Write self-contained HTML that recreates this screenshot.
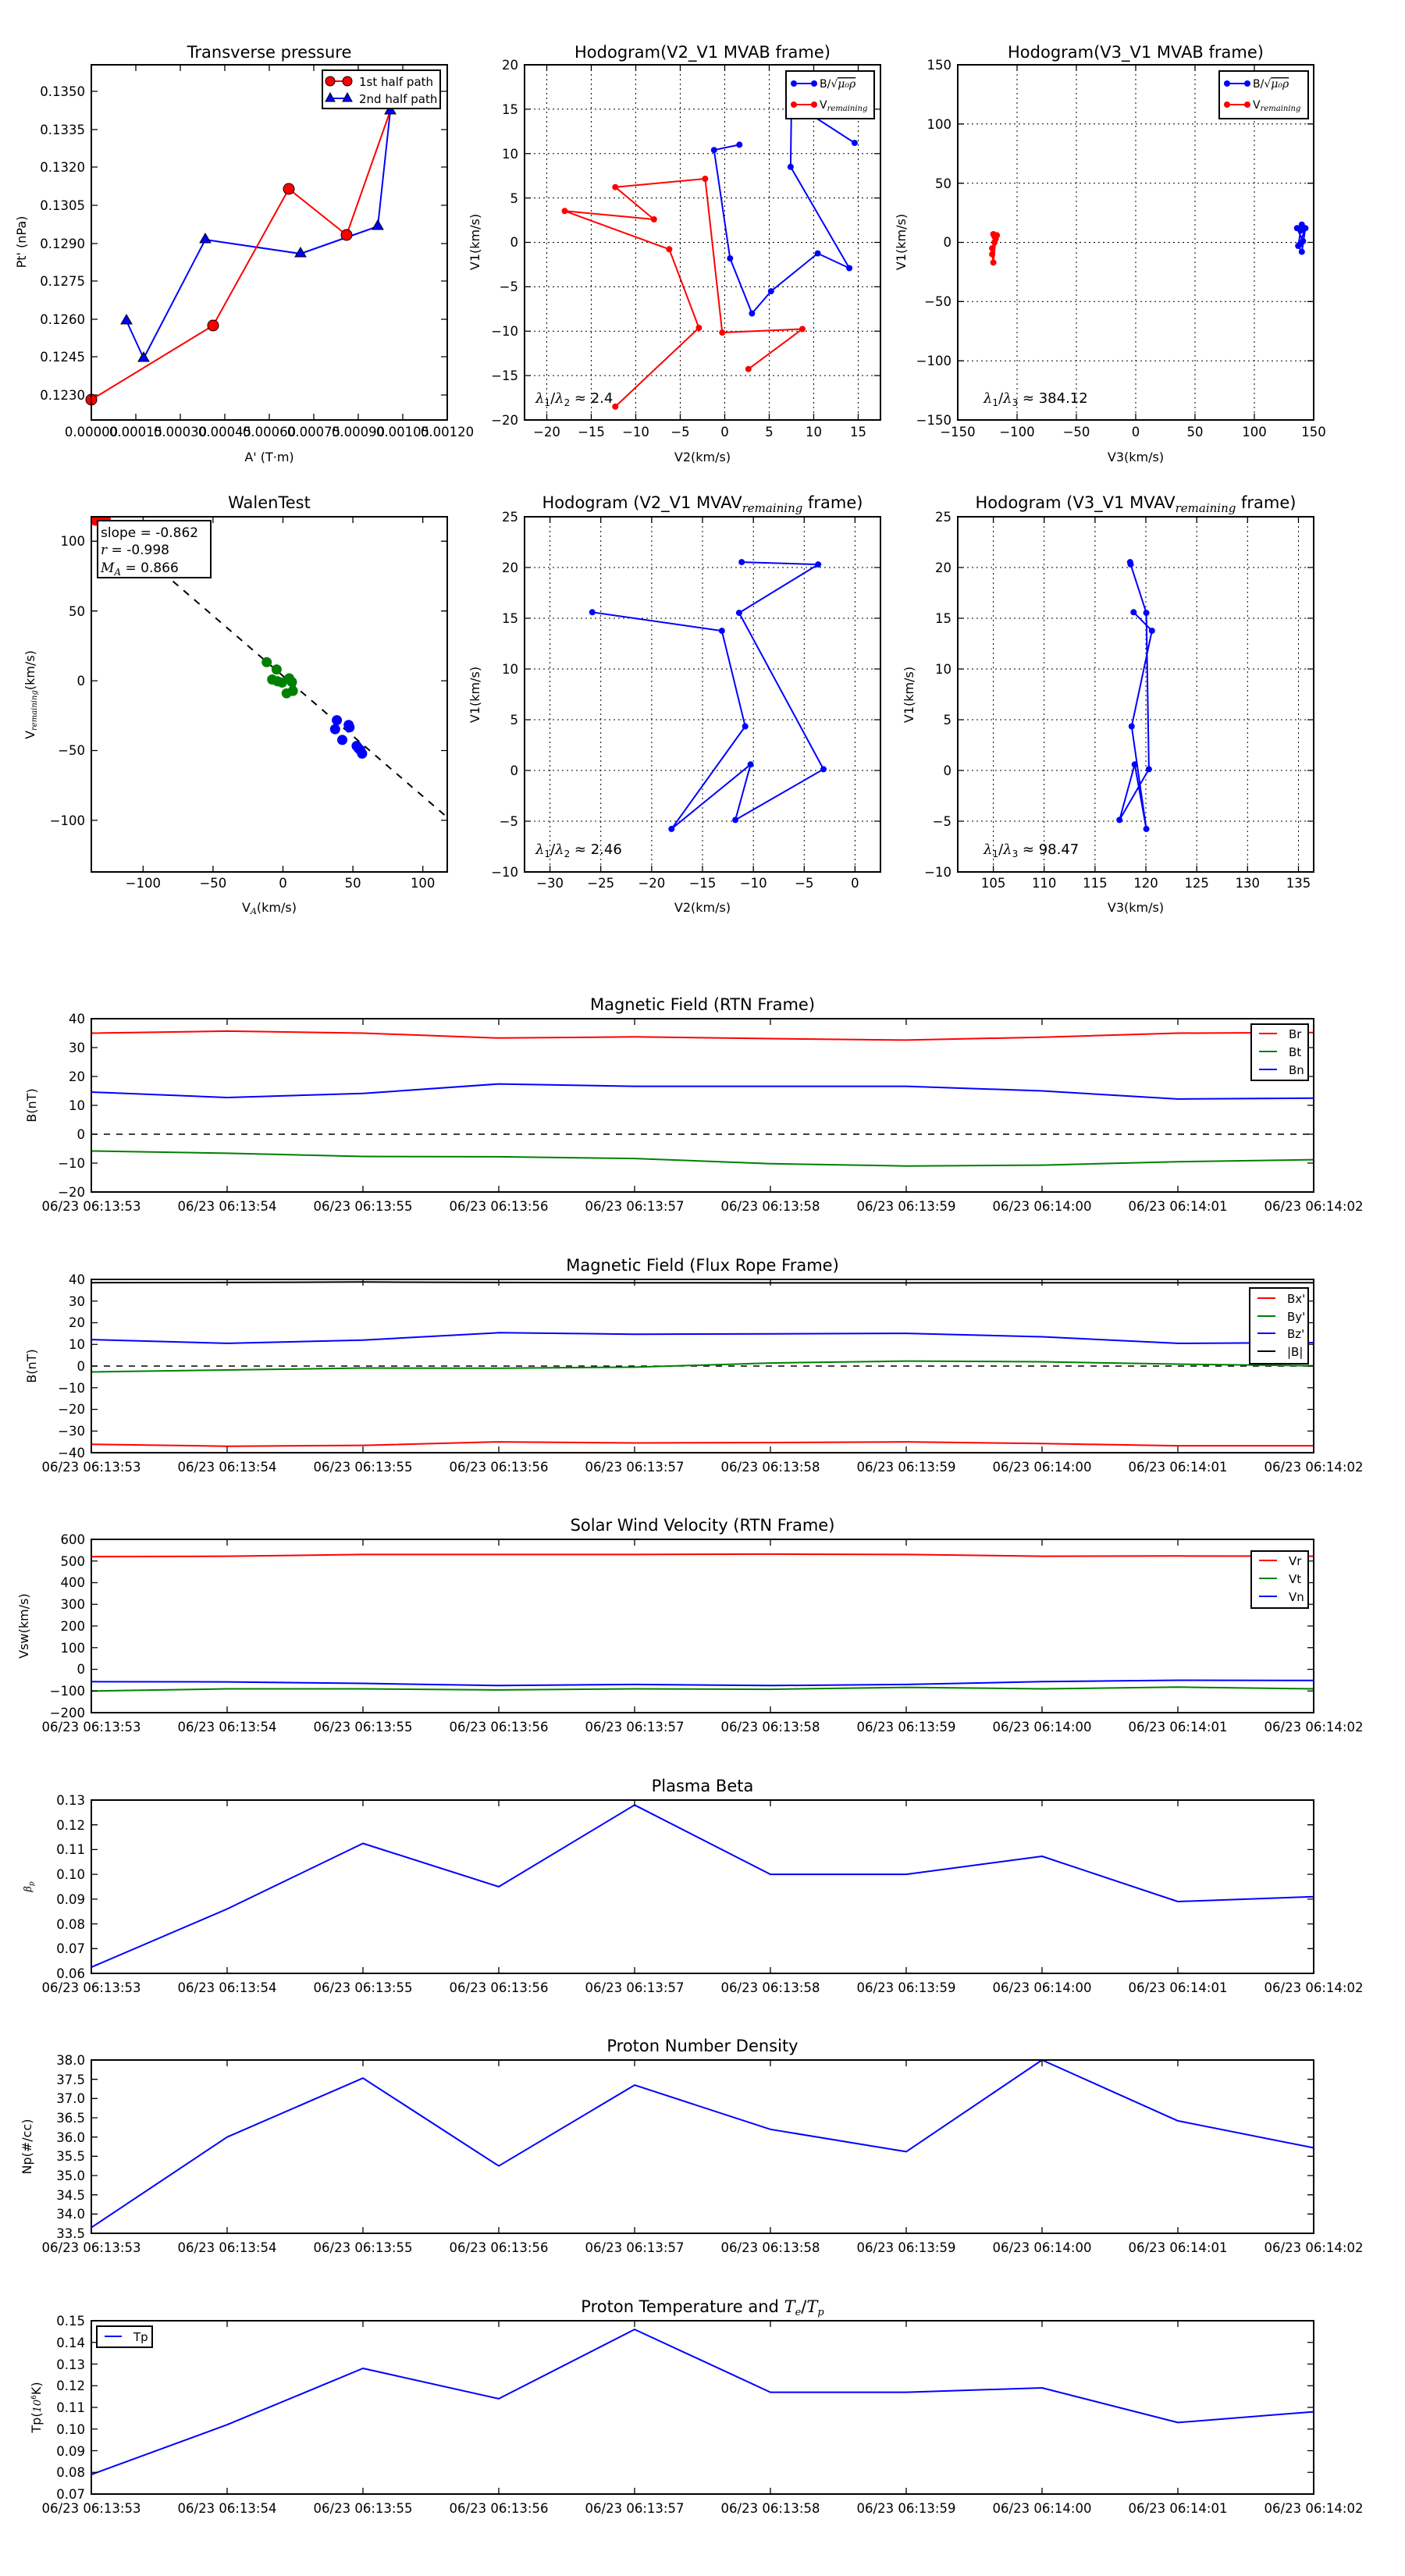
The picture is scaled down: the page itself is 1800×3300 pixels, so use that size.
<!DOCTYPE html>
<html><head><meta charset="utf-8"><style>
html,body{margin:0;padding:0;background:#fff}
svg{display:block}
text{font-family:"DejaVu Sans","Liberation Sans",sans-serif;fill:#000}
.t{font-size:16.5px}
.ti{font-size:21px;text-anchor:middle}
.lb{font-size:16px;text-anchor:middle}
.r{text-anchor:end}
.m{text-anchor:middle}
.ax{fill:none;stroke:#000;stroke-width:2}
.tk{fill:none;stroke:#000;stroke-width:1.3}
.gr{fill:none;stroke:#000;stroke-width:1;stroke-dasharray:2,4}
.ln{fill:none;stroke-width:2;stroke-linejoin:round}
.it{font-family:"DejaVu Serif","Liberation Serif",serif;font-style:italic}
</style></head><body>
<svg width="1800" height="3300" viewBox="0 0 1800 3300" xmlns="http://www.w3.org/2000/svg">
<rect width="1800" height="3300" fill="#fff"/>

<!-- ========== Plot 1: Transverse pressure ========== -->
<text class="ti" x="345" y="74">Transverse pressure</text>
<path class="tk" d="M174 538v-8M231 538v-8M288 538v-8M345 538v-8M402 538v-8M459 538v-8M516 538v-8M174 83v8M231 83v8M288 83v8M345 83v8M402 83v8M459 83v8M516 83v8
M117 117h8M117 166h8M117 214h8M117 263h8M117 312h8M117 360h8M117 409h8M117 457h8M117 506h8M573 117h-8M573 166h-8M573 214h-8M573 263h-8M573 312h-8M573 360h-8M573 409h-8M573 457h-8M573 506h-8"/>
<polyline class="ln" stroke="#00f" points="162,411 184,459 263,307 385,325 484,290 500,142"/>
<polyline class="ln" stroke="#f00" points="117,512 273,417 370,242 444,301 500,142"/>
<g fill="#00f" stroke="#000" stroke-width="1">
<path d="M162 403l7 12h-14z"/><path d="M184 451l7 12h-14z"/><path d="M263 299l7 12h-14z"/><path d="M385 317l7 12h-14z"/><path d="M484 282l7 12h-14z"/><path d="M500 134l7 12h-14z"/>
</g>
<g fill="#f00" stroke="#000" stroke-width="1">
<circle cx="117" cy="512" r="7"/><circle cx="273" cy="417" r="7"/><circle cx="370" cy="242" r="7"/><circle cx="444" cy="301" r="7"/>
</g>
<rect class="ax" x="117" y="83" width="456" height="455"/>
<rect x="413" y="90" width="151" height="49" fill="#fff" stroke="#000" stroke-width="2"/>
<path d="M423 104h22" stroke="#f00" stroke-width="2"/><circle cx="423" cy="104" r="6" fill="#f00" stroke="#000"/><circle cx="445" cy="104" r="6" fill="#f00" stroke="#000"/>
<path d="M423 126h22" stroke="#00f" stroke-width="2"/><path d="M423 119l6 11h-12zM445 119l6 11h-12z" fill="#00f" stroke="#000"/>
<text x="460" y="110" style="font-size:15px">1st half path</text>
<text x="460" y="132" style="font-size:15px">2nd half path</text>
<g class="t r"><text x="109" y="123">0.1350</text><text x="109" y="172">0.1335</text><text x="109" y="220">0.1320</text><text x="109" y="269">0.1305</text><text x="109" y="318">0.1290</text><text x="109" y="366">0.1275</text><text x="109" y="415">0.1260</text><text x="109" y="463">0.1245</text><text x="109" y="512">0.1230</text></g>
<g class="t m"><text x="117" y="559">0.00000</text><text x="174" y="559">0.00015</text><text x="231" y="559">0.00030</text><text x="288" y="559">0.00045</text><text x="345" y="559">0.00060</text><text x="402" y="559">0.00075</text><text x="459" y="559">0.00090</text><text x="516" y="559">0.00105</text><text x="573" y="559">0.00120</text></g>
<text class="lb" x="345" y="591">A' (T·m)</text>
<text class="lb" transform="translate(33,310) rotate(-90)">Pt' (nPa)</text>

<!-- ========== Plot 2: Hodogram V2_V1 MVAB ========== -->
<text class="ti" x="900" y="74">Hodogram(V2_V1 MVAB frame)</text>
<path class="gr" d="M700.5 83V538M757.5 83V538M814.5 83V538M871.5 83V538M928.5 83V538M985.5 83V538M1042.5 83V538M1099.5 83V538M672 139.9H1128M672 196.75H1128M672 253.6H1128M672 310.5H1128M672 367.4H1128M672 424.25H1128M672 481.1H1128"/>
<polyline class="ln" stroke="#00f" points="947.3,185.4 914.8,192.2 935.3,331 963.4,401.5 987.8,373.1 1047.6,324.6 1088.1,343.5 1012.9,213.8 1014,130.8 1094.9,183.1"/>
<g fill="#00f"><circle cx="947.3" cy="185.4" r="4"/><circle cx="914.8" cy="192.2" r="4"/><circle cx="935.3" cy="331" r="4"/><circle cx="963.4" cy="401.5" r="4"/><circle cx="987.8" cy="373.1" r="4"/><circle cx="1047.6" cy="324.6" r="4"/><circle cx="1088.1" cy="343.5" r="4"/><circle cx="1012.9" cy="213.8" r="4"/><circle cx="1014" cy="130.8" r="4"/><circle cx="1094.9" cy="183.1" r="4"/></g>
<polyline class="ln" stroke="#f00" points="788.3,520.9 895.4,420 857.4,319.3 723.5,270.3 837.8,281 788.3,239.7 903.4,229 925.3,426 1028,421.5 958.8,472.8"/>
<g fill="#f00"><circle cx="788.3" cy="520.9" r="4"/><circle cx="895.4" cy="420" r="4"/><circle cx="857.4" cy="319.3" r="4"/><circle cx="723.5" cy="270.3" r="4"/><circle cx="837.8" cy="281" r="4"/><circle cx="788.3" cy="239.7" r="4"/><circle cx="903.4" cy="229" r="4"/><circle cx="925.3" cy="426" r="4"/><circle cx="1028" cy="421.5" r="4"/><circle cx="958.8" cy="472.8" r="4"/></g>
<path class="tk" d="M700.5 538v-8M757.5 538v-8M814.5 538v-8M871.5 538v-8M928.5 538v-8M985.5 538v-8M1042.5 538v-8M1099.5 538v-8M700.5 83v8M757.5 83v8M814.5 83v8M871.5 83v8M928.5 83v8M985.5 83v8M1042.5 83v8M1099.5 83v8M672 139.9h8M672 196.75h8M672 253.6h8M672 310.5h8M672 367.4h8M672 424.25h8M672 481.1h8M1128 139.9h-8M1128 196.75h-8M1128 253.6h-8M1128 310.5h-8M1128 367.4h-8M1128 424.25h-8M1128 481.1h-8"/>
<rect class="ax" x="672" y="83" width="456" height="455"/>
<rect x="1007" y="91" width="113" height="61" fill="#fff" stroke="#000" stroke-width="2"/>
<path d="M1017 107h26" stroke="#00f" stroke-width="2"/><circle cx="1017" cy="107" r="4" fill="#00f"/><circle cx="1043" cy="107" r="4" fill="#00f"/>
<path d="M1017 134h26" stroke="#f00" stroke-width="2"/><circle cx="1017" cy="134" r="4" fill="#f00"/><circle cx="1043" cy="134" r="4" fill="#f00"/>
<text x="1050" y="112" style="font-size:14px">B/√<tspan class="it" style="text-decoration:overline">μ₀ρ</tspan></text>
<text x="1050" y="139" style="font-size:14px">V<tspan class="it" style="font-size:10px" dy="3">remaining</tspan></text>
<text x="686" y="516" style="font-size:18px"><tspan class="it">λ</tspan><tspan style="font-size:12px" dy="4">1</tspan><tspan dy="-4">/</tspan><tspan class="it">λ</tspan><tspan style="font-size:12px" dy="4">2</tspan><tspan dy="-4"> ≈ 2.4</tspan></text>
<g class="t r"><text x="664" y="89">20</text><text x="664" y="146">15</text><text x="664" y="203">10</text><text x="664" y="260">5</text><text x="664" y="316">0</text><text x="664" y="373">−5</text><text x="664" y="430">−10</text><text x="664" y="487">−15</text><text x="664" y="544">−20</text></g>
<g class="t m"><text x="700.5" y="559">−20</text><text x="757.5" y="559">−15</text><text x="814.5" y="559">−10</text><text x="871.5" y="559">−5</text><text x="928.5" y="559">0</text><text x="985.5" y="559">5</text><text x="1042.5" y="559">10</text><text x="1099.5" y="559">15</text></g>
<text class="lb" x="900" y="591">V2(km/s)</text>
<text class="lb" transform="translate(614,310) rotate(-90)">V1(km/s)</text>

<!-- ========== Plot 3: Hodogram V3_V1 MVAB ========== -->
<text class="ti" x="1455" y="74">Hodogram(V3_V1 MVAB frame)</text>
<path class="gr" d="M1303 83V538M1379 83V538M1455 83V538M1531 83V538M1607 83V538M1227 158.8H1683M1227 234.7H1683M1227 310.5H1683M1227 386.3H1683M1227 462.2H1683"/>
<polyline class="ln" stroke="#f00" points="1272.6,300 1274.1,303 1271.1,325.7 1272.6,336.3 1275.6,306 1277.2,301.4 1271.1,318.1 1274.1,310.5"/>
<g fill="#f00"><circle cx="1272.6" cy="300" r="4"/><circle cx="1274.1" cy="303" r="4"/><circle cx="1271.1" cy="325.7" r="4"/><circle cx="1272.6" cy="336.3" r="4"/><circle cx="1275.6" cy="306" r="4"/><circle cx="1277.2" cy="301.4" r="4"/><circle cx="1271.1" cy="318.1" r="4"/><circle cx="1274.1" cy="310.5" r="4"/></g>
<polyline class="ln" stroke="#00f" points="1667.8,287.7 1666.3,295.3 1663.2,315 1667.8,322.6 1672.4,292.3 1664.8,313.5 1669.3,309 1661.7,292.3"/>
<g fill="#00f"><circle cx="1667.8" cy="287.7" r="4"/><circle cx="1666.3" cy="295.3" r="4"/><circle cx="1663.2" cy="315" r="4"/><circle cx="1667.8" cy="322.6" r="4"/><circle cx="1672.4" cy="292.3" r="4"/><circle cx="1664.8" cy="313.5" r="4"/><circle cx="1669.3" cy="309" r="4"/><circle cx="1661.7" cy="292.3" r="4"/></g>
<path class="tk" d="M1303 538v-8M1379 538v-8M1455 538v-8M1531 538v-8M1607 538v-8M1303 83v8M1379 83v8M1455 83v8M1531 83v8M1607 83v8M1227 158.8h8M1227 234.7h8M1227 310.5h8M1227 386.3h8M1227 462.2h8M1683 158.8h-8M1683 234.7h-8M1683 310.5h-8M1683 386.3h-8M1683 462.2h-8"/>
<rect class="ax" x="1227" y="83" width="456" height="455"/>
<rect x="1562" y="91" width="114" height="61" fill="#fff" stroke="#000" stroke-width="2"/>
<path d="M1572 107h26" stroke="#00f" stroke-width="2"/><circle cx="1572" cy="107" r="4" fill="#00f"/><circle cx="1598" cy="107" r="4" fill="#00f"/>
<path d="M1572 134h26" stroke="#f00" stroke-width="2"/><circle cx="1572" cy="134" r="4" fill="#f00"/><circle cx="1598" cy="134" r="4" fill="#f00"/>
<text x="1605" y="112" style="font-size:14px">B/√<tspan class="it" style="text-decoration:overline">μ₀ρ</tspan></text>
<text x="1605" y="139" style="font-size:14px">V<tspan class="it" style="font-size:10px" dy="3">remaining</tspan></text>
<text x="1260" y="516" style="font-size:18px"><tspan class="it">λ</tspan><tspan style="font-size:12px" dy="4">1</tspan><tspan dy="-4">/</tspan><tspan class="it">λ</tspan><tspan style="font-size:12px" dy="4">3</tspan><tspan dy="-4"> ≈ 384.12</tspan></text>
<g class="t r"><text x="1219" y="89">150</text><text x="1219" y="165">100</text><text x="1219" y="241">50</text><text x="1219" y="316">0</text><text x="1219" y="392">−50</text><text x="1219" y="468">−100</text><text x="1219" y="544">−150</text></g>
<g class="t m"><text x="1227" y="559">−150</text><text x="1303" y="559">−100</text><text x="1379" y="559">−50</text><text x="1455" y="559">0</text><text x="1531" y="559">50</text><text x="1607" y="559">100</text><text x="1683" y="559">150</text></g>
<text class="lb" x="1455" y="591">V3(km/s)</text>
<text class="lb" transform="translate(1160,310) rotate(-90)">V1(km/s)</text>

<!-- ========== Plot 4: WalenTest ========== -->
<text class="ti" x="345" y="651">WalenTest</text>
<svg x="117" y="662" width="456" height="455" overflow="hidden">
<g transform="translate(-117,-662)">
<path d="M126 662.4L573 1047" stroke="#000" stroke-width="2" stroke-dasharray="9,9" fill="none"/>
<g fill="#008000"><circle cx="341.7" cy="848.3" r="6.5"/><circle cx="354.4" cy="857.6" r="6.5"/><circle cx="348.7" cy="870.5" r="6.5"/><circle cx="355.5" cy="872.8" r="6.5"/><circle cx="361.4" cy="874.4" r="6.5"/><circle cx="370.5" cy="869" r="6.5"/><circle cx="374" cy="873.7" r="6.5"/><circle cx="367.2" cy="888.2" r="6.5"/><circle cx="375.2" cy="885.1" r="6.5"/></g>
<g fill="#00f"><circle cx="431.6" cy="922.6" r="6.5"/><circle cx="429.3" cy="934.1" r="6.5"/><circle cx="446.7" cy="928.7" r="6.5"/><circle cx="447.8" cy="931.8" r="6.5"/><circle cx="438.5" cy="947.9" r="6.5"/><circle cx="456.9" cy="955.6" r="6.5"/><circle cx="461.6" cy="960.9" r="6.5"/><circle cx="463.9" cy="965.4" r="6.5"/><circle cx="459.3" cy="958.6" r="6.5"/></g>
<g fill="#f00"><circle cx="122.4" cy="666.5" r="7"/><circle cx="134.9" cy="664.7" r="7"/></g>
</g></svg>
<path class="tk" d="M183.3 1117v-8M272.9 1117v-8M362.5 1117v-8M452.1 1117v-8M541.7 1117v-8M183.3 662v8M272.9 662v8M362.5 662v8M452.1 662v8M541.7 662v8M117 693.3h8M117 782.7h8M117 872.1h8M117 961.5h8M117 1050.9h8M573 693.3h-8M573 782.7h-8M573 872.1h-8M573 961.5h-8M573 1050.9h-8"/>
<rect class="ax" x="117" y="662" width="456" height="455"/>
<rect x="125" y="667" width="145" height="73" fill="#fff" stroke="#000" stroke-width="2"/>
<text x="129" y="688" style="font-size:17px">slope = -0.862</text>
<text x="129" y="710" style="font-size:17px"><tspan class="it">r</tspan> = -0.998</text>
<text x="129" y="733" style="font-size:17px"><tspan class="it">M</tspan><tspan class="it" style="font-size:12px" dy="4">A</tspan><tspan dy="-4"> = 0.866</tspan></text>
<g class="t r"><text x="109" y="699">100</text><text x="109" y="789">50</text><text x="109" y="878">0</text><text x="109" y="967">−50</text><text x="109" y="1057">−100</text></g>
<g class="t m"><text x="183.3" y="1137">−100</text><text x="272.9" y="1137">−50</text><text x="362.5" y="1137">0</text><text x="452.1" y="1137">50</text><text x="541.7" y="1137">100</text></g>
<text class="lb" x="345" y="1168">V<tspan class="it" style="font-size:11px" dy="3">A</tspan><tspan dy="-3">(km/s)</tspan></text>
<text class="lb" transform="translate(44,890) rotate(-90)">V<tspan class="it" style="font-size:10px" dy="3">remaining</tspan><tspan dy="-3">(km/s)</tspan></text>

<!-- ========== Plot 5 ========== -->
<text class="ti" x="900" y="651">Hodogram (V2_V1 MVAV<tspan class="it" style="font-size:15px" dy="5">remaining</tspan><tspan dy="-5"> frame)</tspan></text>
<path class="gr" d="M704.6 662V1117M769.7 662V1117M834.9 662V1117M900 662V1117M965.2 662V1117M1030.3 662V1117M1095.4 662V1117M672 727H1128M672 792H1128M672 857H1128M672 922H1128M672 987H1128M672 1052H1128"/>
<polyline class="ln" stroke="#00f" points="950.2,720.1 1048.2,723.1 946.9,785.1 1055,985.4 942.1,1050.4 961.6,979.3 860.3,1061.9 954.7,930.5 924.8,808.1 758.8,784.3"/>
<g fill="#00f"><circle cx="950.2" cy="720.1" r="4"/><circle cx="1048.2" cy="723.1" r="4"/><circle cx="946.9" cy="785.1" r="4"/><circle cx="1055" cy="985.4" r="4"/><circle cx="942.1" cy="1050.4" r="4"/><circle cx="961.6" cy="979.3" r="4"/><circle cx="860.3" cy="1061.9" r="4"/><circle cx="954.7" cy="930.5" r="4"/><circle cx="924.8" cy="808.1" r="4"/><circle cx="758.8" cy="784.3" r="4"/></g>
<path class="tk" d="M704.6 1117v-8M769.7 1117v-8M834.9 1117v-8M900 1117v-8M965.2 1117v-8M1030.3 1117v-8M1095.4 1117v-8M704.6 662v8M769.7 662v8M834.9 662v8M900 662v8M965.2 662v8M1030.3 662v8M1095.4 662v8M672 727h8M672 792h8M672 857h8M672 922h8M672 987h8M672 1052h8M1128 727h-8M1128 792h-8M1128 857h-8M1128 922h-8M1128 987h-8M1128 1052h-8"/>
<rect class="ax" x="672" y="662" width="456" height="455"/>
<text x="686" y="1094" style="font-size:18px"><tspan class="it">λ</tspan><tspan style="font-size:12px" dy="4">1</tspan><tspan dy="-4">/</tspan><tspan class="it">λ</tspan><tspan style="font-size:12px" dy="4">2</tspan><tspan dy="-4"> ≈ 2.46</tspan></text>
<g class="t r"><text x="664" y="668">25</text><text x="664" y="733">20</text><text x="664" y="798">15</text><text x="664" y="863">10</text><text x="664" y="928">5</text><text x="664" y="993">0</text><text x="664" y="1058">−5</text><text x="664" y="1123">−10</text></g>
<g class="t m"><text x="704.6" y="1137">−30</text><text x="769.7" y="1137">−25</text><text x="834.9" y="1137">−20</text><text x="900" y="1137">−15</text><text x="965.2" y="1137">−10</text><text x="1030.3" y="1137">−5</text><text x="1095.4" y="1137">0</text></g>
<text class="lb" x="900" y="1168">V2(km/s)</text>
<text class="lb" transform="translate(614,890) rotate(-90)">V1(km/s)</text>

<!-- ========== Plot 6 ========== -->
<text class="ti" x="1455" y="651">Hodogram (V3_V1 MVAV<tspan class="it" style="font-size:15px" dy="5">remaining</tspan><tspan dy="-5"> frame)</tspan></text>
<path class="gr" d="M1272.6 662V1117M1337.7 662V1117M1402.9 662V1117M1468 662V1117M1533.2 662V1117M1598.3 662V1117M1663.5 662V1117M1227 727H1683M1227 792H1683M1227 857H1683M1227 922H1683M1227 987H1683M1227 1052H1683"/>
<polyline class="ln" stroke="#00f" points="1447.8,720.1 1448.5,723.1 1468.6,785.1 1471.9,985.4 1434.2,1050.4 1453.7,979.3 1468.6,1061.9 1449.8,930.5 1475.8,808.1 1452.3,784.3"/>
<g fill="#00f"><circle cx="1447.8" cy="720.1" r="4"/><circle cx="1448.5" cy="723.1" r="4"/><circle cx="1468.6" cy="785.1" r="4"/><circle cx="1471.9" cy="985.4" r="4"/><circle cx="1434.2" cy="1050.4" r="4"/><circle cx="1453.7" cy="979.3" r="4"/><circle cx="1468.6" cy="1061.9" r="4"/><circle cx="1449.8" cy="930.5" r="4"/><circle cx="1475.8" cy="808.1" r="4"/><circle cx="1452.3" cy="784.3" r="4"/></g>
<path class="tk" d="M1272.6 1117v-8M1337.7 1117v-8M1402.9 1117v-8M1468 1117v-8M1533.2 1117v-8M1598.3 1117v-8M1663.5 1117v-8M1272.6 662v8M1337.7 662v8M1402.9 662v8M1468 662v8M1533.2 662v8M1598.3 662v8M1663.5 662v8M1227 727h8M1227 792h8M1227 857h8M1227 922h8M1227 987h8M1227 1052h8M1683 727h-8M1683 792h-8M1683 857h-8M1683 922h-8M1683 987h-8M1683 1052h-8"/>
<rect class="ax" x="1227" y="662" width="456" height="455"/>
<text x="1260" y="1094" style="font-size:18px"><tspan class="it">λ</tspan><tspan style="font-size:12px" dy="4">1</tspan><tspan dy="-4">/</tspan><tspan class="it">λ</tspan><tspan style="font-size:12px" dy="4">3</tspan><tspan dy="-4"> ≈ 98.47</tspan></text>
<g class="t r"><text x="1219" y="668">25</text><text x="1219" y="733">20</text><text x="1219" y="798">15</text><text x="1219" y="863">10</text><text x="1219" y="928">5</text><text x="1219" y="993">0</text><text x="1219" y="1058">−5</text><text x="1219" y="1123">−10</text></g>
<g class="t m"><text x="1272.6" y="1137">105</text><text x="1337.7" y="1137">110</text><text x="1402.9" y="1137">115</text><text x="1468" y="1137">120</text><text x="1533.2" y="1137">125</text><text x="1598.3" y="1137">130</text><text x="1663.5" y="1137">135</text></g>
<text class="lb" x="1455" y="1168">V3(km/s)</text>
<text class="lb" transform="translate(1170,890) rotate(-90)">V1(km/s)</text>

<!-- ========== Time series panels ========== -->
<!-- Panel 1 -->
<text class="ti" x="900" y="1294">Magnetic Field (RTN Frame)</text>
<path d="M117 1453H1683" stroke="#000" stroke-width="1.5" stroke-dasharray="8,8" fill="none"/>
<polyline class="ln" stroke="#f00" points="117,1323.5 291,1320.9 465,1323.5 639,1329.8 813,1328.3 987,1330.5 1161,1332.4 1335,1328.7 1509,1323.5 1683,1322.8"/>
<polyline class="ln" stroke="#008000" points="117,1474.5 291,1477.4 465,1481.5 639,1481.9 813,1484.1 987,1490.7 1161,1493.7 1335,1492.6 1509,1488.2 1683,1485.6"/>
<polyline class="ln" stroke="#00f" points="117,1399 291,1406 465,1400.8 639,1388.6 813,1391.6 987,1391.6 1161,1391.6 1335,1397.5 1509,1407.9 1683,1406.8"/>
<path class="tk" d="M291 1527v-8M465 1527v-8M639 1527v-8M813 1527v-8M987 1527v-8M1161 1527v-8M1335 1527v-8M1509 1527v-8M291 1305v8M465 1305v8M639 1305v8M813 1305v8M987 1305v8M1161 1305v8M1335 1305v8M1509 1305v8M117 1342h8M117 1379h8M117 1416h8M117 1453h8M117 1490h8M1683 1342h-8M1683 1379h-8M1683 1416h-8M1683 1453h-8M1683 1490h-8"/>
<rect class="ax" x="117" y="1305" width="1566" height="222"/>
<rect x="1603" y="1312" width="73" height="72" fill="#fff" stroke="#000" stroke-width="2"/>
<path d="M1613 1324h23" stroke="#f00" stroke-width="2"/><path d="M1613 1347h23" stroke="#008000" stroke-width="2"/><path d="M1613 1370h23" stroke="#00f" stroke-width="2"/>
<text x="1651" y="1330" style="font-size:15px">Br</text><text x="1651" y="1353" style="font-size:15px">Bt</text><text x="1651" y="1376" style="font-size:15px">Bn</text>
<g class="t r"><text x="109" y="1311">40</text><text x="109" y="1348">30</text><text x="109" y="1385">20</text><text x="109" y="1422">10</text><text x="109" y="1459">0</text><text x="109" y="1496">−10</text><text x="109" y="1533">−20</text></g>
<g class="t m"><text x="117" y="1551">06/23 06:13:53</text><text x="291" y="1551">06/23 06:13:54</text><text x="465" y="1551">06/23 06:13:55</text><text x="639" y="1551">06/23 06:13:56</text><text x="813" y="1551">06/23 06:13:57</text><text x="987" y="1551">06/23 06:13:58</text><text x="1161" y="1551">06/23 06:13:59</text><text x="1335" y="1551">06/23 06:14:00</text><text x="1509" y="1551">06/23 06:14:01</text><text x="1683" y="1551">06/23 06:14:02</text></g>
<text class="lb" transform="translate(46,1416) rotate(-90)">B(nT)</text>

<!-- Panel 2 -->
<text class="ti" x="900" y="1628">Magnetic Field (Flux Rope Frame)</text>
<path d="M117 1750H1683" stroke="#000" stroke-width="1.5" stroke-dasharray="8,8" fill="none"/>
<polyline class="ln" stroke="#000" points="117,1643.2 291,1642.9 465,1642.3 639,1642.9 813,1643.2 987,1643.4 1161,1643.4 1335,1643.2 1509,1643.2 1683,1643.2"/>
<polyline class="ln" stroke="#00f" points="117,1716.1 291,1720.9 465,1716.7 639,1707.3 813,1709.2 987,1708.7 1161,1708.1 1335,1712.5 1509,1720.9 1683,1720"/>
<polyline class="ln" stroke="#008000" points="117,1757.5 291,1755 465,1752.5 639,1752.8 813,1751.4 987,1746.1 1161,1743.6 1335,1744.5 1509,1747.5 1683,1749.7"/>
<polyline class="ln" stroke="#f00" points="117,1850.2 291,1852.7 465,1851.6 639,1847.1 813,1848.5 987,1848 1161,1847.1 1335,1849.3 1509,1852.1 1683,1852.1"/>
<path class="tk" d="M291 1861v-8M465 1861v-8M639 1861v-8M813 1861v-8M987 1861v-8M1161 1861v-8M1335 1861v-8M1509 1861v-8M291 1639v8M465 1639v8M639 1639v8M813 1639v8M987 1639v8M1161 1639v8M1335 1639v8M1509 1639v8M117 1666.75h8M117 1694.5h8M117 1722.25h8M117 1750h8M117 1777.75h8M117 1805.5h8M117 1833.25h8M1683 1666.75h-8M1683 1694.5h-8M1683 1722.25h-8M1683 1750h-8M1683 1777.75h-8M1683 1805.5h-8M1683 1833.25h-8"/>
<rect class="ax" x="117" y="1639" width="1566" height="222"/>
<rect x="1601" y="1650" width="75" height="97" fill="#fff" stroke="#000" stroke-width="2"/>
<path d="M1611 1663h23" stroke="#f00" stroke-width="2"/><path d="M1611 1686h23" stroke="#008000" stroke-width="2"/><path d="M1611 1708h23" stroke="#00f" stroke-width="2"/><path d="M1611 1731h23" stroke="#000" stroke-width="2"/>
<text x="1649" y="1669" style="font-size:15px">Bx'</text><text x="1649" y="1692" style="font-size:15px">By'</text><text x="1649" y="1714" style="font-size:15px">Bz'</text><text x="1649" y="1737" style="font-size:15px">|B|</text>
<g class="t r"><text x="109" y="1645">40</text><text x="109" y="1673">30</text><text x="109" y="1700">20</text><text x="109" y="1728">10</text><text x="109" y="1756">0</text><text x="109" y="1784">−10</text><text x="109" y="1811">−20</text><text x="109" y="1839">−30</text><text x="109" y="1867">−40</text></g>
<g class="t m"><text x="117" y="1885">06/23 06:13:53</text><text x="291" y="1885">06/23 06:13:54</text><text x="465" y="1885">06/23 06:13:55</text><text x="639" y="1885">06/23 06:13:56</text><text x="813" y="1885">06/23 06:13:57</text><text x="987" y="1885">06/23 06:13:58</text><text x="1161" y="1885">06/23 06:13:59</text><text x="1335" y="1885">06/23 06:14:00</text><text x="1509" y="1885">06/23 06:14:01</text><text x="1683" y="1885">06/23 06:14:02</text></g>
<text class="lb" transform="translate(46,1750) rotate(-90)">B(nT)</text>

<!-- Panel 3 -->
<text class="ti" x="900" y="1961">Solar Wind Velocity (RTN Frame)</text>
<polyline class="ln" stroke="#f00" points="117,1994.2 291,1993.6 465,1991.4 639,1991.4 813,1991.4 987,1990.9 1161,1991.4 1335,1993.6 1509,1993.3 1683,1993.6"/>
<polyline class="ln" stroke="#008000" points="117,2166.3 291,2163.5 465,2163.5 639,2164.9 813,2163.5 987,2164.1 1161,2161.6 1335,2163.5 1509,2161.3 1683,2163.5"/>
<polyline class="ln" stroke="#00f" points="117,2154.3 291,2154.6 465,2156.5 639,2159.3 813,2157.9 987,2159.3 1161,2157.9 1335,2154.3 1509,2152.5 1683,2152.8"/>
<path class="tk" d="M291 2194v-8M465 2194v-8M639 2194v-8M813 2194v-8M987 2194v-8M1161 2194v-8M1335 2194v-8M1509 2194v-8M291 1972v8M465 1972v8M639 1972v8M813 1972v8M987 1972v8M1161 1972v8M1335 1972v8M1509 1972v8M117 1999.75h8M117 2027.5h8M117 2055.25h8M117 2083h8M117 2110.75h8M117 2138.5h8M117 2166.25h8M1683 1999.75h-8M1683 2027.5h-8M1683 2055.25h-8M1683 2083h-8M1683 2110.75h-8M1683 2138.5h-8M1683 2166.25h-8"/>
<rect class="ax" x="117" y="1972" width="1566" height="222"/>
<rect x="1603" y="1987" width="73" height="73" fill="#fff" stroke="#000" stroke-width="2"/>
<path d="M1613 1999h23" stroke="#f00" stroke-width="2"/><path d="M1613 2022h23" stroke="#008000" stroke-width="2"/><path d="M1613 2045h23" stroke="#00f" stroke-width="2"/>
<text x="1651" y="2005" style="font-size:15px">Vr</text><text x="1651" y="2028" style="font-size:15px">Vt</text><text x="1651" y="2051" style="font-size:15px">Vn</text>
<g class="t r"><text x="109" y="1978">600</text><text x="109" y="2006">500</text><text x="109" y="2033">400</text><text x="109" y="2061">300</text><text x="109" y="2089">200</text><text x="109" y="2117">100</text><text x="109" y="2144">0</text><text x="109" y="2172">−100</text><text x="109" y="2200">−200</text></g>
<g class="t m"><text x="117" y="2218">06/23 06:13:53</text><text x="291" y="2218">06/23 06:13:54</text><text x="465" y="2218">06/23 06:13:55</text><text x="639" y="2218">06/23 06:13:56</text><text x="813" y="2218">06/23 06:13:57</text><text x="987" y="2218">06/23 06:13:58</text><text x="1161" y="2218">06/23 06:13:59</text><text x="1335" y="2218">06/23 06:14:00</text><text x="1509" y="2218">06/23 06:14:01</text><text x="1683" y="2218">06/23 06:14:02</text></g>
<text class="lb" transform="translate(36,2083) rotate(-90)">Vsw(km/s)</text>

<!-- Panel 4 -->
<text class="ti" x="900" y="2295">Plasma Beta</text>
<polyline class="ln" stroke="#00f" points="117,2520.1 291,2445.5 465,2361.5 639,2417 813,2312.3 987,2401.1 1161,2401.1 1335,2378 1509,2436 1683,2429.7"/>
<path class="tk" d="M291 2528v-8M465 2528v-8M639 2528v-8M813 2528v-8M987 2528v-8M1161 2528v-8M1335 2528v-8M1509 2528v-8M291 2306v8M465 2306v8M639 2306v8M813 2306v8M987 2306v8M1161 2306v8M1335 2306v8M1509 2306v8M117 2337.7h8M117 2369.4h8M117 2401.1h8M117 2432.9h8M117 2464.6h8M117 2496.3h8M1683 2337.7h-8M1683 2369.4h-8M1683 2401.1h-8M1683 2432.9h-8M1683 2464.6h-8M1683 2496.3h-8"/>
<rect class="ax" x="117" y="2306" width="1566" height="222"/>
<g class="t r"><text x="109" y="2312">0.13</text><text x="109" y="2344">0.12</text><text x="109" y="2375">0.11</text><text x="109" y="2407">0.10</text><text x="109" y="2439">0.09</text><text x="109" y="2471">0.08</text><text x="109" y="2502">0.07</text><text x="109" y="2534">0.06</text></g>
<g class="t m"><text x="117" y="2552">06/23 06:13:53</text><text x="291" y="2552">06/23 06:13:54</text><text x="465" y="2552">06/23 06:13:55</text><text x="639" y="2552">06/23 06:13:56</text><text x="813" y="2552">06/23 06:13:57</text><text x="987" y="2552">06/23 06:13:58</text><text x="1161" y="2552">06/23 06:13:59</text><text x="1335" y="2552">06/23 06:14:00</text><text x="1509" y="2552">06/23 06:14:01</text><text x="1683" y="2552">06/23 06:14:02</text></g>
<text class="lb it" transform="translate(40,2417) rotate(-90)" style="font-size:13px">β<tspan style="font-size:9px" dy="3">p</tspan></text>

<!-- Panel 5 -->
<text class="ti" x="900" y="2628">Proton Number Density</text>
<polyline class="ln" stroke="#00f" points="117,2853.6 291,2737.7 465,2662.2 639,2774.7 813,2671.1 987,2727.8 1161,2756.4 1335,2639 1509,2716.9 1683,2751.5"/>
<path class="tk" d="M291 2861v-8M465 2861v-8M639 2861v-8M813 2861v-8M987 2861v-8M1161 2861v-8M1335 2861v-8M1509 2861v-8M291 2639v8M465 2639v8M639 2639v8M813 2639v8M987 2639v8M1161 2639v8M1335 2639v8M1509 2639v8M117 2663.7h8M117 2688.3h8M117 2713h8M117 2737.7h8M117 2762.3h8M117 2787h8M117 2811.7h8M117 2836.3h8M1683 2663.7h-8M1683 2688.3h-8M1683 2713h-8M1683 2737.7h-8M1683 2762.3h-8M1683 2787h-8M1683 2811.7h-8M1683 2836.3h-8"/>
<rect class="ax" x="117" y="2639" width="1566" height="222"/>
<g class="t r"><text x="109" y="2645">38.0</text><text x="109" y="2670">37.5</text><text x="109" y="2694">37.0</text><text x="109" y="2719">36.5</text><text x="109" y="2744">36.0</text><text x="109" y="2768">35.5</text><text x="109" y="2793">35.0</text><text x="109" y="2818">34.5</text><text x="109" y="2842">34.0</text><text x="109" y="2867">33.5</text></g>
<g class="t m"><text x="117" y="2885">06/23 06:13:53</text><text x="291" y="2885">06/23 06:13:54</text><text x="465" y="2885">06/23 06:13:55</text><text x="639" y="2885">06/23 06:13:56</text><text x="813" y="2885">06/23 06:13:57</text><text x="987" y="2885">06/23 06:13:58</text><text x="1161" y="2885">06/23 06:13:59</text><text x="1335" y="2885">06/23 06:14:00</text><text x="1509" y="2885">06/23 06:14:01</text><text x="1683" y="2885">06/23 06:14:02</text></g>
<text class="lb" transform="translate(40,2750) rotate(-90)">Np(#/cc)</text>

<!-- Panel 6 -->
<text class="ti" x="900" y="2962">Proton Temperature and <tspan class="it">T</tspan><tspan class="it" style="font-size:13px" dy="4">e</tspan><tspan dy="-4">/</tspan><tspan class="it">T</tspan><tspan class="it" style="font-size:13px" dy="4">p</tspan></text>
<polyline class="ln" stroke="#00f" points="117,3170 291,3106.2 465,3034 639,3072.9 813,2984.1 987,3064.6 1161,3064.6 1335,3059 1509,3103.4 1683,3089.6"/>
<path class="tk" d="M291 3195v-8M465 3195v-8M639 3195v-8M813 3195v-8M987 3195v-8M1161 3195v-8M1335 3195v-8M1509 3195v-8M291 2973v8M465 2973v8M639 2973v8M813 2973v8M987 2973v8M1161 2973v8M1335 2973v8M1509 2973v8M117 3000.75h8M117 3028.5h8M117 3056.25h8M117 3084h8M117 3111.75h8M117 3139.5h8M117 3167.25h8M1683 3000.75h-8M1683 3028.5h-8M1683 3056.25h-8M1683 3084h-8M1683 3111.75h-8M1683 3139.5h-8M1683 3167.25h-8"/>
<rect class="ax" x="117" y="2973" width="1566" height="222"/>
<rect x="124" y="2980" width="71" height="27" fill="#fff" stroke="#000" stroke-width="2"/>
<path d="M134 2993h22" stroke="#00f" stroke-width="2"/>
<text x="171" y="2999" style="font-size:15px">Tp</text>
<g class="t r"><text x="109" y="2979">0.15</text><text x="109" y="3007">0.14</text><text x="109" y="3035">0.13</text><text x="109" y="3062">0.12</text><text x="109" y="3090">0.11</text><text x="109" y="3118">0.10</text><text x="109" y="3146">0.09</text><text x="109" y="3173">0.08</text><text x="109" y="3201">0.07</text></g>
<g class="t m"><text x="117" y="3219">06/23 06:13:53</text><text x="291" y="3219">06/23 06:13:54</text><text x="465" y="3219">06/23 06:13:55</text><text x="639" y="3219">06/23 06:13:56</text><text x="813" y="3219">06/23 06:13:57</text><text x="987" y="3219">06/23 06:13:58</text><text x="1161" y="3219">06/23 06:13:59</text><text x="1335" y="3219">06/23 06:14:00</text><text x="1509" y="3219">06/23 06:14:01</text><text x="1683" y="3219">06/23 06:14:02</text></g>
<text class="lb" transform="translate(52,3084) rotate(-90)">Tp(<tspan class="it" style="font-size:13px">10</tspan><tspan style="font-size:9px" dy="-6">6</tspan><tspan dy="6">K)</tspan></text>
</svg>
</body></html>
